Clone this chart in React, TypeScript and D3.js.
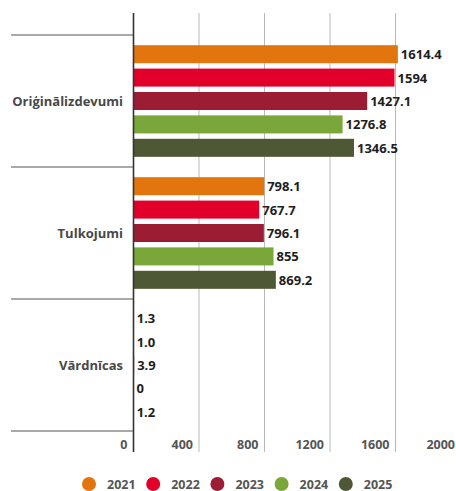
import React from "react";
import * as d3 from "d3";

const categories = ["Oriģinālizdevumi", "Tulkojumi", "Vārdnīcas"];
const years = ["2021", "2022", "2023", "2024", "2025"];
const colors = ["#E3750E", "#E2002A", "#9C1D33", "#79A73A", "#4E5834"];
// values per year, in category order
const values2021 = [1614.4, 798.1, 1.3];
const values2022 = [1594, 767.7, 1.0];
const values2023 = [1427.1, 796.1, 3.9];
const values2024 = [1276.8, 855, 0];
const values2025 = [1346.5, 869.2, 1.2];
const labels2021 = ["1614.4", "798.1", "1.3"];
const labels2022 = ["1594", "767.7", "1.0"];
const labels2023 = ["1427.1", "796.1", "3.9"];
const labels2024 = ["1276.8", "855", "0"];
const labels2025 = ["1346.5", "869.2", "1.2"];
const xTicks = [0, 400, 800, 1200, 1600, 2000];

const seriesValues = [values2021, values2022, values2023, values2024, values2025];
const seriesLabels = [labels2021, labels2022, labels2023, labels2024, labels2025];

const W = 456;
const H = 491;
const FONT = "'Open Sans', 'Noto Sans', sans-serif";

export default function App() {
  const x = d3.scaleLinear().domain([0, 2000]).range([133.5, 461]);
  const y = d3.scaleBand().domain(categories).range([35, 431]);
  const yInner = d3
    .scaleBand()
    .domain(years)
    .range([0, y.bandwidth()])
    .paddingInner(0.23)
    .paddingOuter(0.435);

  const gridTop = 13;
  const gridBottom = 452;

  return (
    <svg
      width={W}
      height={H}
      style={{ position: "absolute", left: 0, top: 0, background: "#fff" }}
      fontFamily={FONT}
    >
      {/* grid lines */}
      {xTicks.slice(1).map((t) => (
        <line
          key={"g" + t}
          x1={x(t)}
          x2={x(t)}
          y1={gridTop}
          y2={gridBottom}
          stroke="#b8b8b8"
          strokeWidth={1}
        />
      ))}
      {/* category separators */}
      {[...categories.map((c) => y(c) as number), 431].map((yy, i) => (
        <line key={"s" + i} x1={11} x2={133.5} y1={yy} y2={yy} stroke="#555" strokeWidth={1} />
      ))}
      {/* bars */}
      {categories.map((c, ci) =>
        years.map((yr, si) => {
          const v = seriesValues[si][ci];
          const by = (y(c) as number) + (yInner(yr) as number);
          const bh = yInner.bandwidth();
          return (
            <g key={c + yr}>
              <rect x={x(0)} y={by} width={Math.max(0, x(v) - x(0))} height={bh} fill={colors[si]} />
              <text
                x={x(v) + 3}
                y={by + bh / 2}
                dominantBaseline="central"
                fontSize={13}
                fontWeight={700}
                fill="#1e1e1e"
              >
                {seriesLabels[si][ci]}
              </text>
            </g>
          );
        })
      )}
      {/* axis line */}
      <line x1={x(0)} x2={x(0)} y1={gridTop} y2={gridBottom} stroke="#333" strokeWidth={1.6} />
      {/* category labels */}
      {categories.map((c) => (
        <text
          key={"l" + c}
          x={123}
          y={(y(c) as number) + y.bandwidth() / 2}
          textAnchor="end"
          dominantBaseline="central"
          fontSize={13}
          fontWeight={700}
          fill="#484848"
        >
          {c}
        </text>
      ))}
      {/* tick labels */}
      {xTicks.map((t) => (
        <text
          key={"t" + t}
          x={x(t) - 6}
          y={444}
          textAnchor="end"
          dominantBaseline="central"
          fontSize={12.5}
          fontWeight={700}
          fill="#555"
        >
          {t}
        </text>
      ))}
      {/* legend */}
      {years.map((yr, i) => {
        const cx = 89 + i * 64.2;
        return (
          <g key={"lg" + yr}>
            <circle cx={cx} cy={484} r={7} fill={colors[i]} />
            <text
              x={cx + 18}
              y={484}
              dominantBaseline="central"
              fontSize={12.5}
              fontWeight={700}
              fill="#555"
            >
              {yr}
            </text>
          </g>
        );
      })}
    </svg>
  );
}
